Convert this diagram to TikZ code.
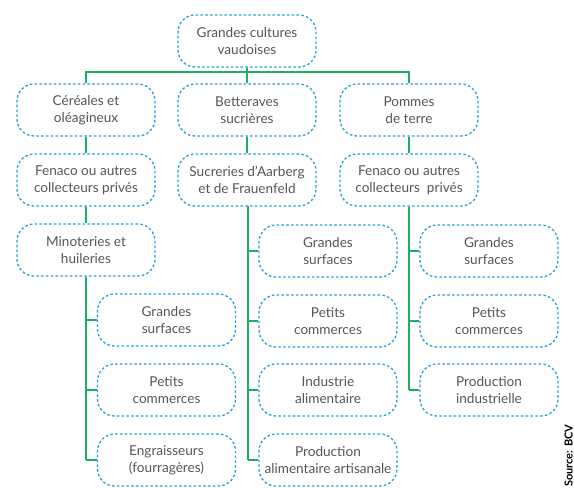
\documentclass[tikz,border=0pt]{standalone}
\usepackage{fontspec}
\setmainfont{Lato}
\definecolor{boxblue}{HTML}{2A9FD8}
\definecolor{lineg}{HTML}{1DB060}
\definecolor{txt}{HTML}{555555}
\begin{document}
\begin{tikzpicture}[x=1pt,y=-1pt,
  cbox/.style={draw=boxblue, line width=1.3pt, dash pattern=on 2.6pt off 2.2pt,
    rounded corners=17pt, minimum width=138pt, minimum height=52pt,
    align=center, text=txt, font=\fontsize{13.6}{17}\selectfont, inner sep=2pt},
  conn/.style={draw=lineg, line width=1.4pt}]
\useasboundingbox (0,0) rectangle (574,488);
% top
\node[cbox] (top) at (247,41) {Grandes cultures\\vaudoises};
% row 2
\node[cbox] (cer) at (86,110) {Céréales et\\oléagineux};
\node[cbox] (bet) at (247,110) {Betteraves\\sucrières};
\node[cbox] (pom) at (409,110) {Pommes\\de terre};
% row 3
\node[cbox] (fen1) at (86,180) {Fenaco ou autres\\collecteurs privés};
\node[cbox] (suc) at (247,180) {Sucreries d’Aarberg\\et de Frauenfeld};
\node[cbox] (fen2) at (409,180) {Fenaco ou autres\\collecteurs\ \ privés};
% row 4
\node[cbox] (min) at (86,250) {Minoteries et\\huileries};
% left column
\node[cbox] (lg) at (166.5,320) {Grandes\\surfaces};
\node[cbox] (lp) at (166.5,390) {Petits\\commerces};
\node[cbox] (le) at (166.5,460) {Engraisseurs\\(fourragères)};
% middle column
\node[cbox] (mg) at (328,251) {Grandes\\surfaces};
\node[cbox] (mp) at (328,321) {Petits\\commerces};
\node[cbox] (mi) at (328,390) {Industrie\\alimentaire};
\node[cbox] (ma) at (328,460) {Production\\alimentaire artisanale};
% right column
\node[cbox] (rg) at (489,251) {Grandes\\surfaces};
\node[cbox] (rp) at (489,321) {Petits\\commerces};
\node[cbox] (ri) at (489,390) {Production\\industrielle};
% source
\node[rotate=90, font=\bfseries\fontsize{11}{12}\selectfont, text=black, anchor=south west, inner sep=0pt] (src) at (573,487) {Source: BCV};
% connectors
\coordinate (hb) at (247,72);
\draw[conn] (top.south) -- (hb);
\draw[conn] (cer.north) |- (hb) -| (pom.north);
\draw[conn] (hb) -- (bet.north);
\draw[conn] (cer) -- (fen1);
\draw[conn] (fen1) -- (min);
\draw[conn] (bet) -- (suc);
\draw[conn] (pom) -- (fen2);
% left column spine
\coordinate (lbot) at (86,460);
\draw[conn] (min.south) -- (lbot);
\draw[conn] (86,320) -- (lg.west);
\draw[conn] (86,390) -- (lp.west);
\draw[conn] (lbot) -- (le.west);
% middle spine
\coordinate (mbot) at (248,460);
\draw[conn] (248,206) -- (mbot);
\draw[conn] (248,251) -- (mg.west);
\draw[conn] (248,321) -- (mp.west);
\draw[conn] (248,390) -- (mi.west);
\draw[conn] (mbot) -- (ma.west);
% right spine
\coordinate (rbot) at (409,390);
\draw[conn] (fen2.south) -- (rbot);
\draw[conn] (409,251) -- (rg.west);
\draw[conn] (409,321) -- (rp.west);
\draw[conn] (rbot) -- (ri.west);
\end{tikzpicture}
\end{document}
